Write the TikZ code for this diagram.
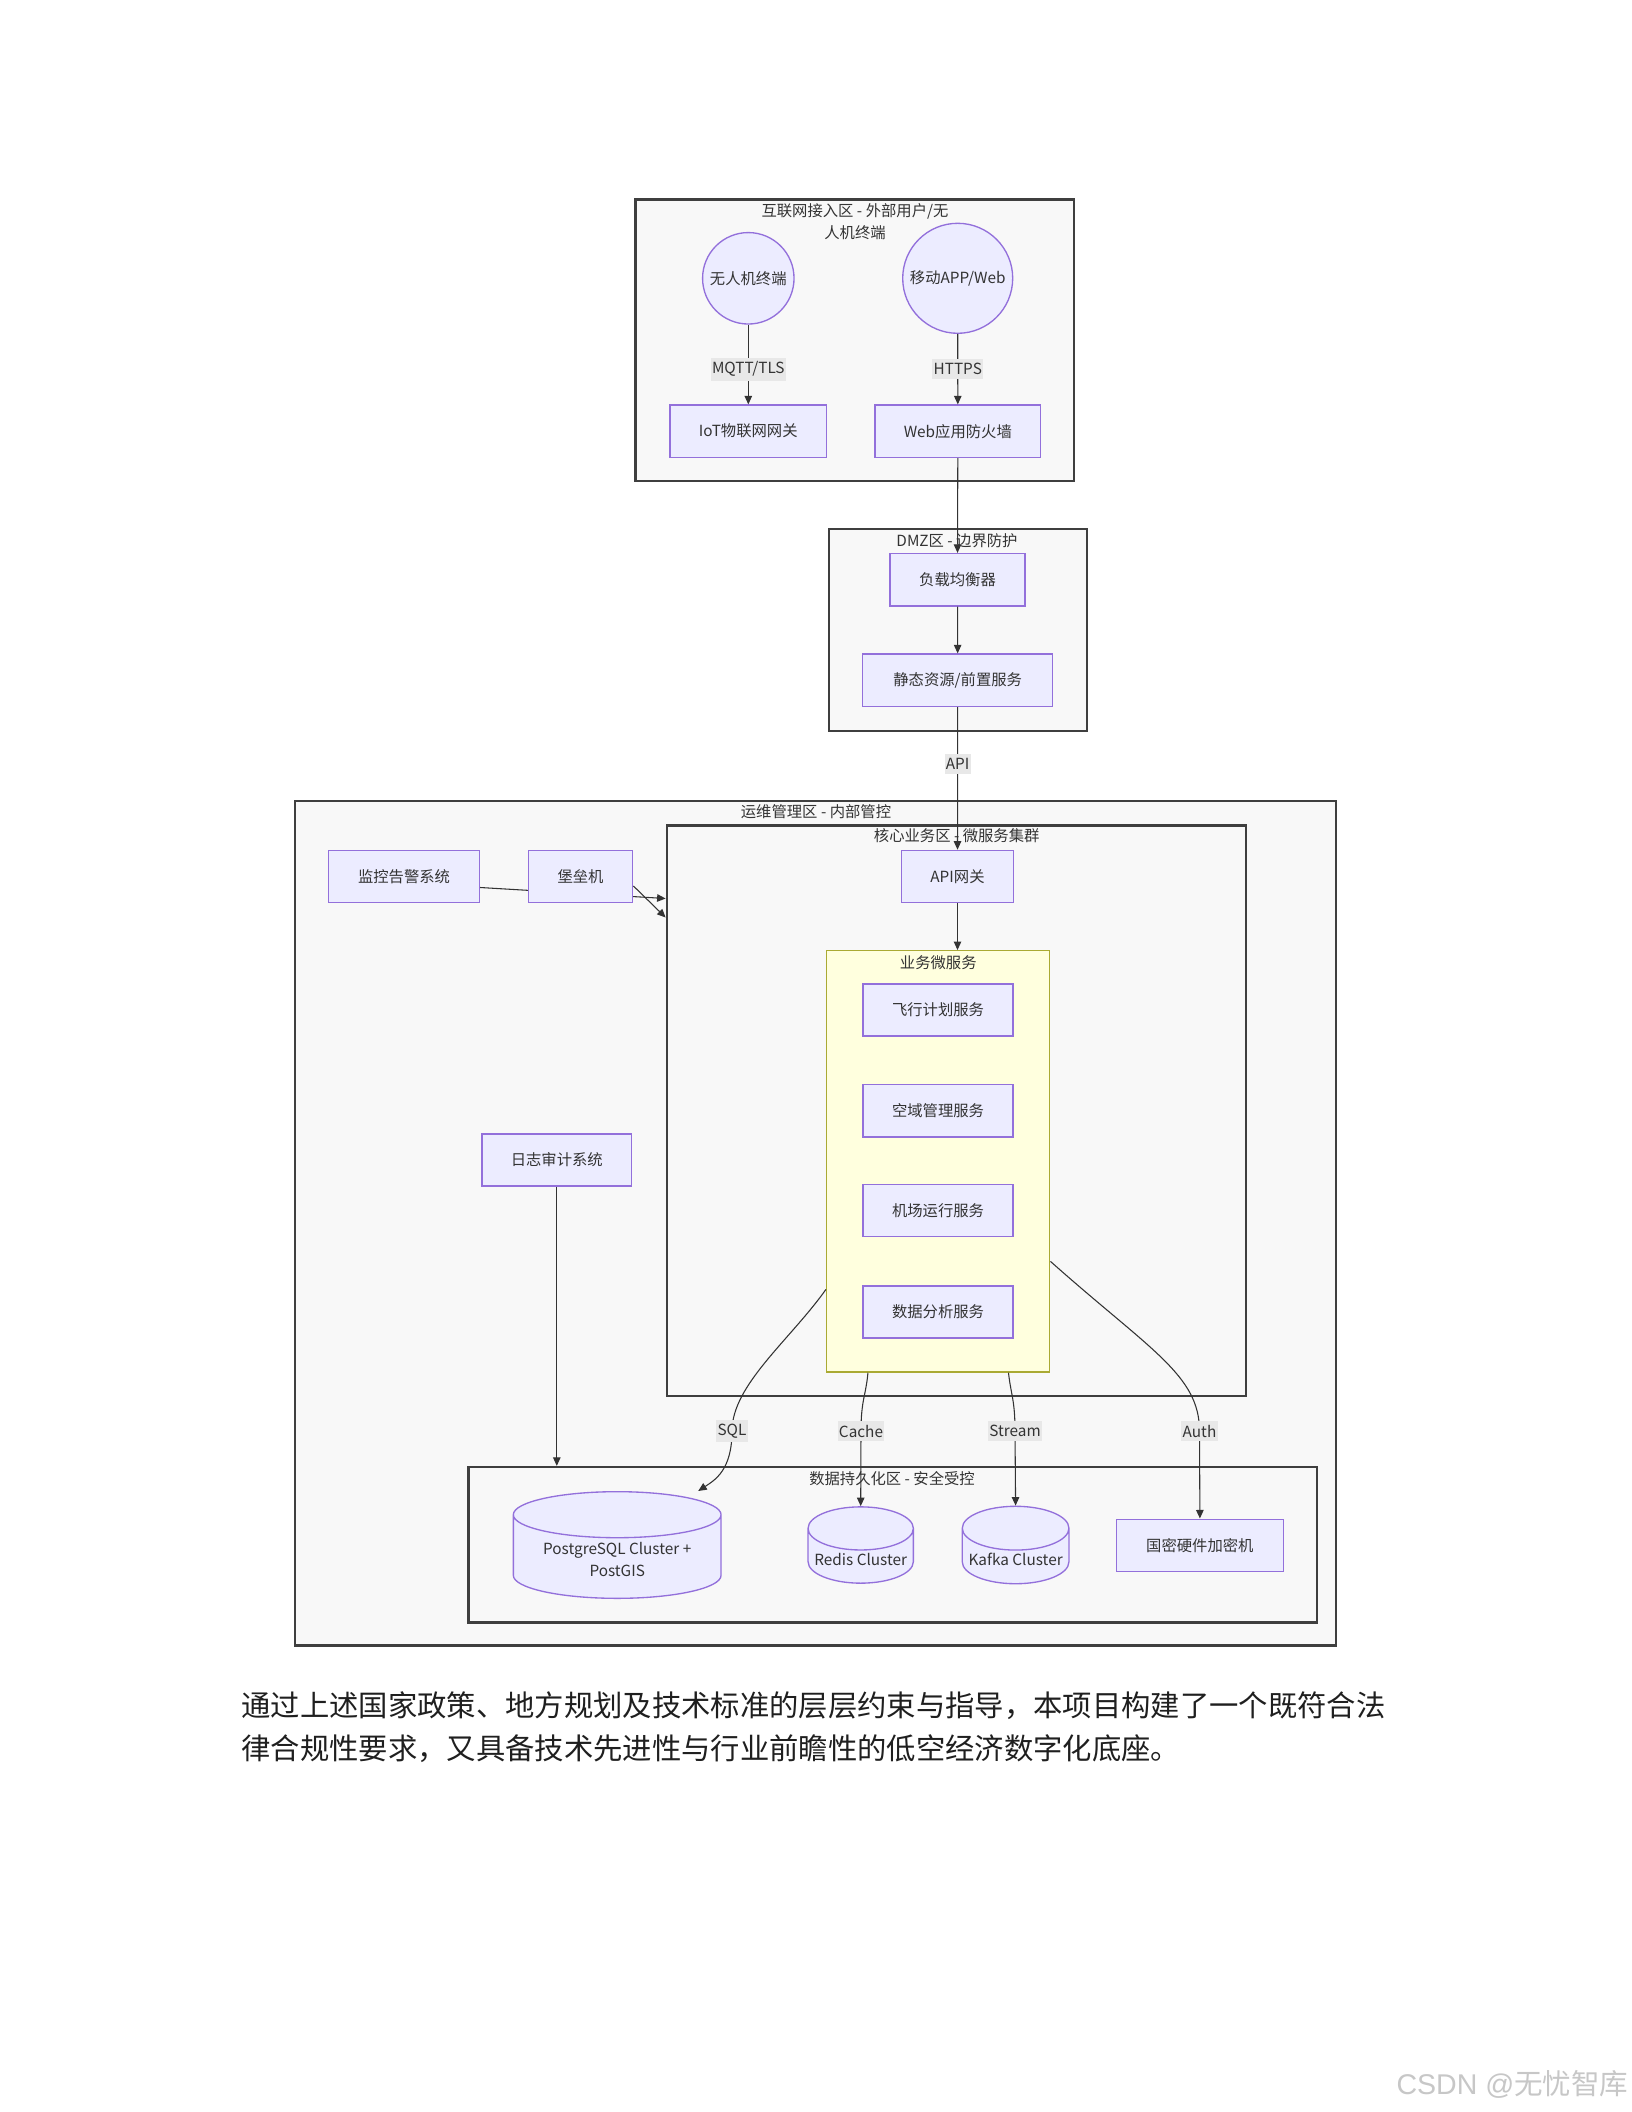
\documentclass[tikz,border=0pt]{standalone}
\usepackage{fontspec}
\newfontfamily\cjk{Noto Sans CJK SC}
\newfontfamily\wmlatin{Liberation Sans}
\usepackage{xcolor}
\usepackage{tikz}
\usetikzlibrary{shapes,arrows.meta,positioning,shapes.geometric,calc}

\definecolor{nodefill}{HTML}{ECECFF}
\definecolor{nodeline}{HTML}{9370DB}
\definecolor{zonefill}{HTML}{F8F8F8}
\definecolor{zoneline}{HTML}{3F3F3F}
\definecolor{bizfill}{HTML}{FFFFDE}
\definecolor{bizline}{HTML}{AAAA33}
\definecolor{inkgray}{HTML}{333333}
\definecolor{lblfill}{HTML}{E8E8E8}

\tikzset{
  svc/.style={draw=nodeline, fill=nodefill, line width=0.5pt, text=inkgray,
    font=\cjk\fontsize{5.75}{8}\selectfont, minimum height=19.6pt, inner sep=1pt},
  term/.style={svc, circle},
  store/.style={svc, cylinder, shape border rotate=90, align=center, anchor=shape center},
  zone/.style={draw=zoneline, fill=zonefill, line width=0.8pt},
  bizzone/.style={draw=bizline, fill=bizfill, line width=0.5pt},
  zonetitle/.style={text=inkgray, font=\cjk\fontsize{5.75}{8.3}\selectfont, inner sep=0pt, align=center},
  flow/.style={draw=inkgray, line width=0.4pt, -{Triangle[length=3.2pt,width=2.8pt]}},
  lbl/.style={fill=lblfill, text=inkgray, font=\cjk\fontsize{5.75}{8}\selectfont, inner xsep=0.5pt, inner ysep=1.5pt},
}

\begin{document}
\begin{tikzpicture}[x=0.375pt, y=-0.375pt]
\useasboundingbox[fill=white] (0,0) rectangle (1632,2112);

% zones
\node[zone, minimum width=164.4pt, minimum height=105.6pt] (inet) at (854.75,340.25) {};
\node[zonetitle] (inettitle) at (855,222) {互联网接入区 - 外部用户/无\\人机终端};
\node[zone, minimum width=96.6pt, minimum height=75.5pt] (dmz) at (957.85,630) {};
\node[zonetitle] (dmztitle) at (957,540.7) {DMZ区 - 边界防护};
\node[zone, minimum width=390.3pt, minimum height=316.7pt] (ops) at (815.35,1223.25) {};
\node[zonetitle] (opstitle) at (816,812) {运维管理区 - 内部管控};
\node[zone, minimum width=217.3pt, minimum height=213.8pt] (core) at (956.45,1110.6) {};
\node[zonetitle] (coretitle) at (956.7,836) {核心业务区 - 微服务集群};
\node[bizzone, minimum width=83.7pt, minimum height=158pt] (biz) at (938.2,1161.4) {};
\node[zonetitle] (biztitle) at (938.3,962.3) {业务微服务};
\node[zone, minimum width=318.2pt, minimum height=58.3pt] (data) at (892.7,1544.7) {};
\node[zonetitle] (datatitle) at (892,1479) {数据持久化区 - 安全受控};

% ops side
\node[svc, minimum width=56.6pt] (monitor) at (404,876.5) {监控告警系统};
\draw[flow] ($(monitor.east)+(0,11)$) -- ($(monitor.east -| core.west)+(0,22)$);
\node[svc, minimum width=39.2pt] (bastion) at (580.5,876.5) {堡垒机};
\node[svc, minimum width=56.1pt] (audit) at (556.8,1160) {日志审计系统};

% access + dmz
\node[term, minimum size=34.3pt] (drone) at (748.3,278.3) {无人机终端};
\node[term, minimum size=41.25pt] (app) at (957.7,278.3) {移动APP/Web};
\node[svc, minimum width=58.8pt] (iot) at (748.3,431.2) {IoT物联网网关};
\node[svc, minimum width=62.1pt] (waf) at (957.8,431.2) {Web应用防火墙};
\node[svc, minimum width=50.6pt] (lb) at (957.5,579.7) {负载均衡器};
\node[svc, minimum width=71.25pt] (static) at (957.7,680.2) {静态资源/前置服务};

% core
\node[svc, minimum width=41.9pt] (apigw) at (957.5,876.5) {API网关};
\node[svc, minimum width=56.25pt] (flight) at (938,1010) {飞行计划服务};
\node[svc, minimum width=56.25pt] (airspace) at (938,1110.8) {空域管理服务};
\node[svc, minimum width=56.25pt] (airport) at (938,1210.5) {机场运行服务};
\node[svc, minimum width=56.25pt] (analysis) at (938,1312) {数据分析服务};

% storage
\node[store, minimum width=77.9pt, minimum height=40pt, aspect=0.3] (pg) at (617.2,1545) {PostgreSQL Cluster +\\PostGIS};
\node[store, minimum width=39.5pt, minimum height=27pt, aspect=0.44] (redis) at (860.7,1545) {Redis Cluster};
\node[store, minimum width=40pt, minimum height=27pt, aspect=0.44] (kafka) at (1015.6,1545) {Kafka Cluster};
\node[svc, minimum width=62.5pt] (hsm) at (1199.9,1545.3) {国密硬件加密机};

\draw[flow] (drone) -- node[lbl, pos=0.556] {MQTT/TLS} (iot);
\draw[flow] (app) -- node[lbl] {HTTPS} (waf);
\draw[flow] (waf.south) -- (lb.north);
\draw[flow] (lb) -- (static);
\draw[flow] (static.south) -- node[lbl, pos=0.4] {API} (apigw.north);
\draw[flow] (apigw.south) -- (apigw.south |- biz.north);
\draw[flow] ($(bastion.east)+(0,9.5)$) -- ($(bastion.east -| core.west)+(0,41)$);
\draw[flow] (audit.south) -- (audit.south |- data.north);

\draw[flow] ($(biz.west)+(0,128)$) .. controls (790,1340) and (732,1385) .. (732,1431) node[lbl] {SQL}
  .. controls (732,1470) and (715,1480) .. ($(pg.north)+(81,0)$);
\draw[flow] ($(biz.south west)+(42,0)$) .. controls (866,1395) and (861,1400) .. (861,1431) node[lbl] {Cache} -- (redis.north);
\draw[flow] ($(biz.south east)+(-42,0)$) .. controls (1011,1395) and (1015,1400) .. (1015,1431) node[lbl] {Stream} -- (kafka.north);
\draw[flow] ($(biz.east)+(0,100)$) .. controls (1150,1350) and (1199.5,1375) .. (1199.5,1431) node[lbl] {Auth} -- (hsm.north);

% text under the figure
\node[anchor=west, align=left, text=black!88, font=\cjk\fontsize{11}{16.1}\selectfont, inner sep=0pt] (summary) at (241,1727.5)
  {通过上述国家政策、地方规划及技术标准的层层约束与指导，本项目构建了一个既符合法\\律合规性要求，又具备技术先进性与行业前瞻性的低空经济数字化底座。};
\node[anchor=east, text=black!22, font=\cjk\fontsize{10.7}{12}\selectfont, inner sep=0pt] (mark) at (1629,2084) {{\wmlatin CSDN @}无忧智库};
\end{tikzpicture}
\end{document}
